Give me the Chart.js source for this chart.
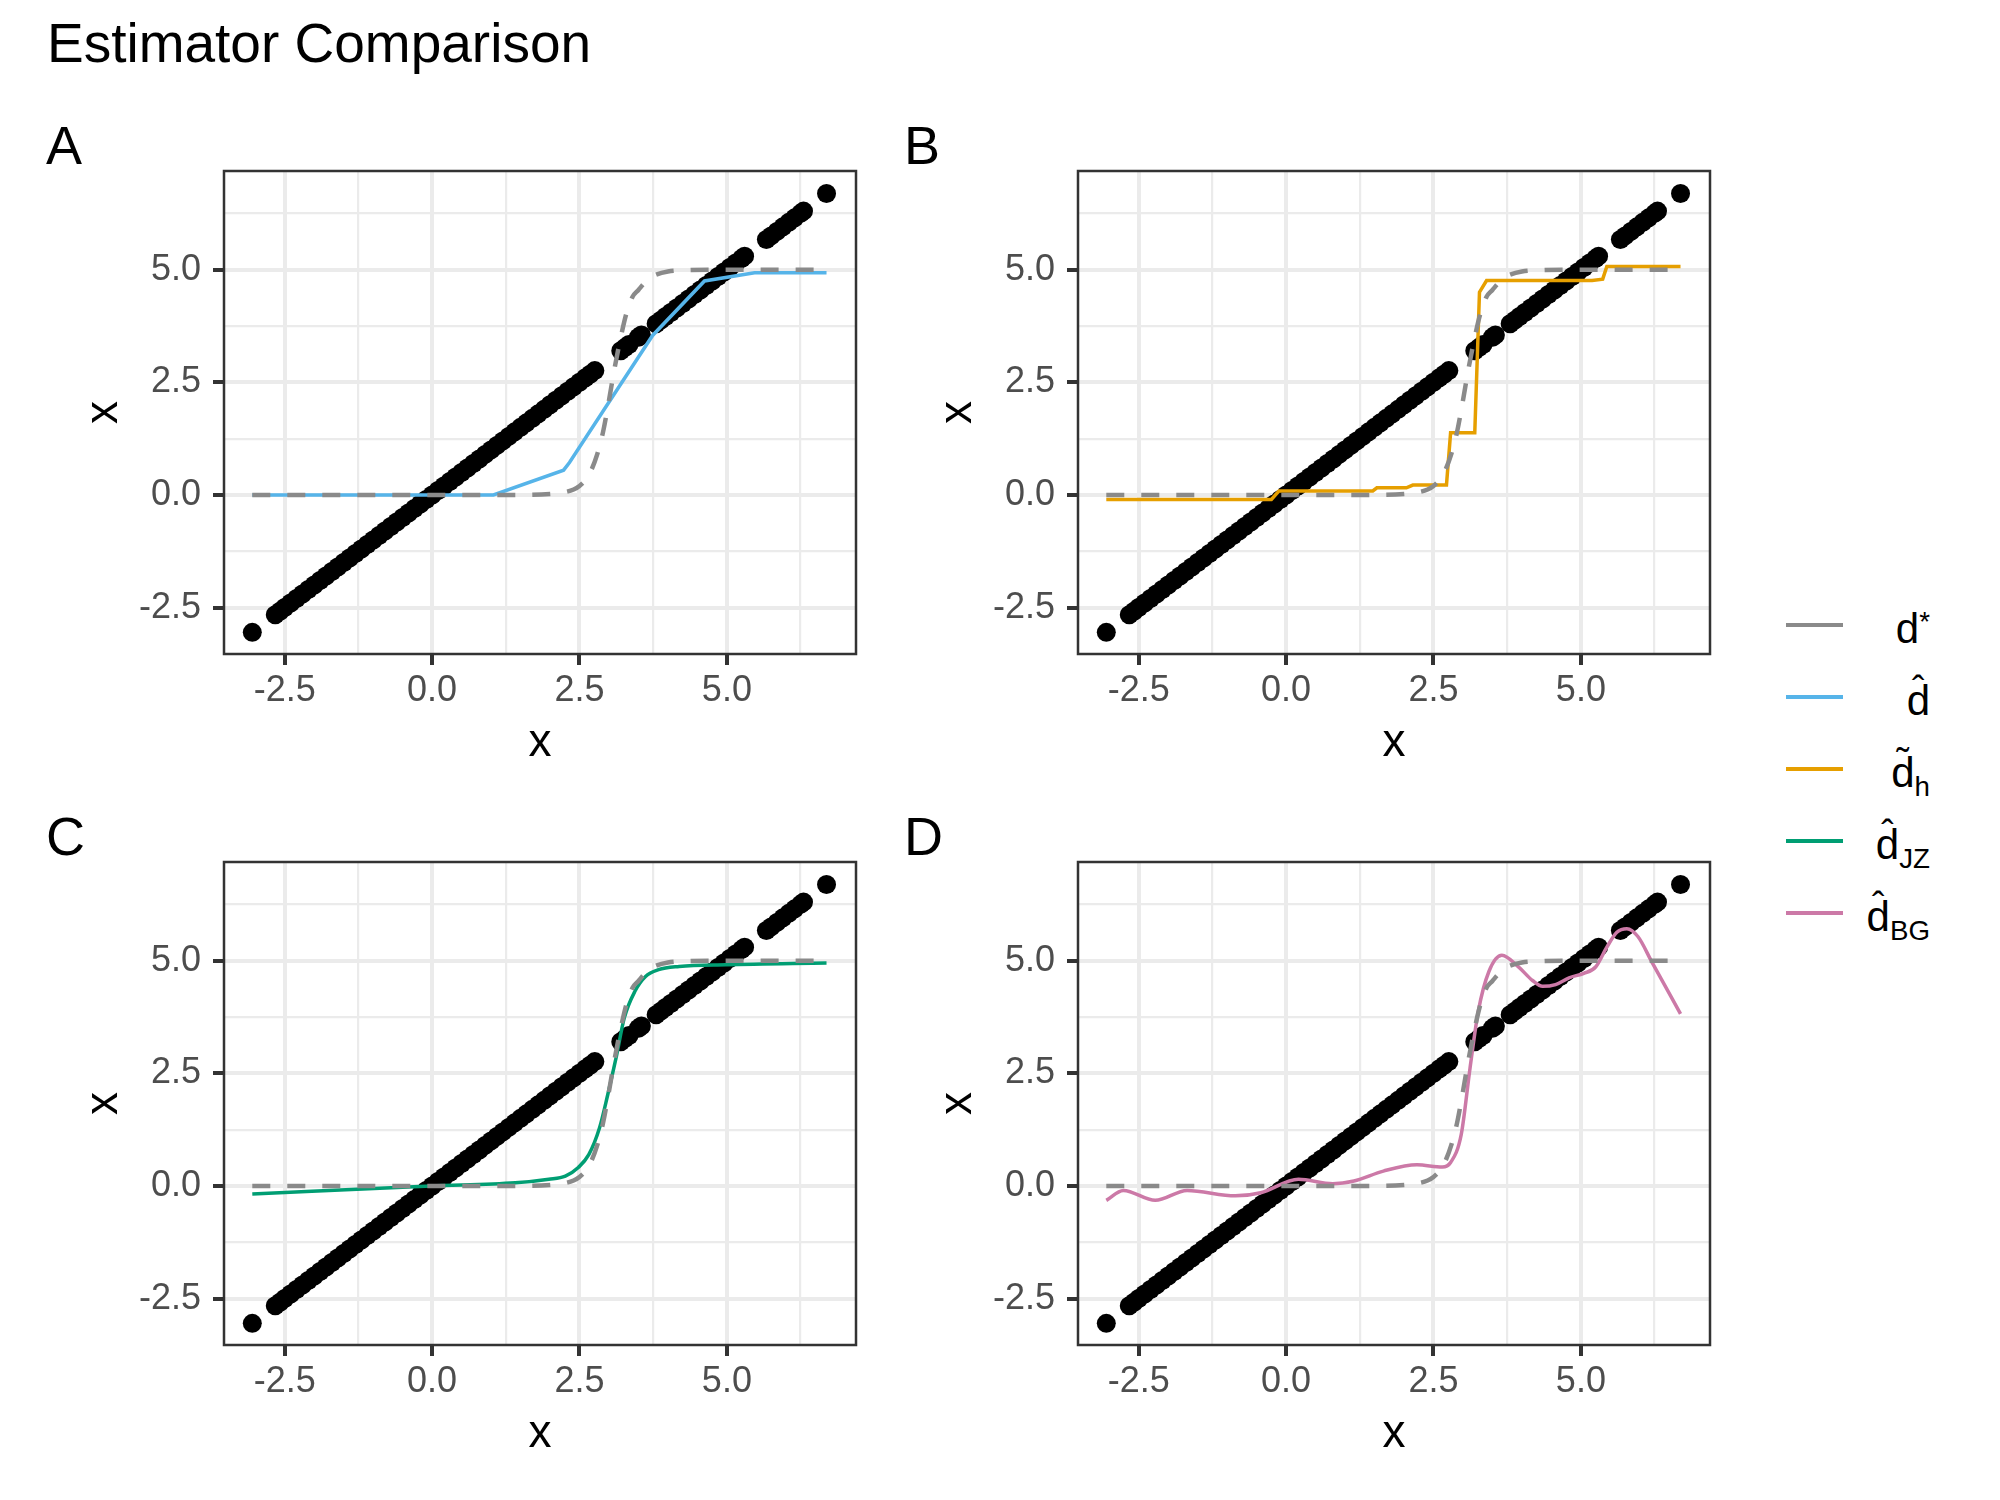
<!DOCTYPE html>
<html>
<head>
<meta charset="utf-8">
<title>Estimator Comparison</title>
<script src="https://cdn.jsdelivr.net/npm/chart.js@4.4.1/dist/chart.umd.min.js"></script>
<style>
  body { margin: 0; background: #fff; font-family: 'Liberation Sans', Arial, sans-serif; }
  #page { position: relative; width: 2000px; height: 1500px; overflow: hidden; background: #fff; }
  .title { position: absolute; left: 47px; top: 16px; font-size: 55px; line-height: 55px; color: #000; }
  .tag { position: absolute; font-size: 54px; line-height: 54px; color: #000; }
  canvas { position: absolute; }
  .key { position: absolute; left: 1786px; width: 57px; height: 4px; }
  .lab { position: absolute; right: 70px; font-size: 42px; line-height: 42px; white-space: nowrap; color: #000; }
  .lab sub, .lab sup { font-size: 0.66em; line-height: 0; }
  .lab sub { vertical-align: -9px; }
  .lab sup { vertical-align: 12px; }
  .acc { position: relative; display: inline-block; }
  .acc > span { position: absolute; left: 0; right: 0; top: -9px; text-align: center; font-size: 0.9em; line-height: 1; }
</style>
</head>
<body>
<div id="page">
  <div class="title">Estimator Comparison</div>
  <div class="tag" style="left:46px; top:118px;">A</div>
  <div class="tag" style="left:904px; top:118px;">B</div>
  <div class="tag" style="left:46px; top:809px;">C</div>
  <div class="tag" style="left:904px; top:809px;">D</div>
  <canvas id="panelA" width="792" height="610" style="left:74px; top:161px;"></canvas>
  <canvas id="panelB" width="792" height="610" style="left:928px; top:161px;"></canvas>
  <canvas id="panelC" width="792" height="610" style="left:74px; top:852px;"></canvas>
  <canvas id="panelD" width="792" height="610" style="left:928px; top:852px;"></canvas>
  <div id="legend"></div>
</div>
<script>
// observed values (the dots lie on y = x)
const pointValues = [
  -3.05,
  -2.66, -2.58, -2.5, -2.4, -2.3, -2.2, -2.1, -2.0, -1.9, -1.8, -1.7, -1.6, -1.5, -1.4, -1.3,
  -1.2, -1.1, -1.0, -0.9, -0.8, -0.7, -0.6, -0.5, -0.4, -0.3, -0.2, -0.1, 0.0, 0.1, 0.2,
  0.3, 0.4, 0.5, 0.6, 0.7, 0.8, 0.9, 1.0, 1.1, 1.2, 1.3, 1.4, 1.5, 1.6, 1.7, 1.8,
  1.9, 2.0, 2.1, 2.2, 2.3, 2.4, 2.5, 2.6, 2.68, 2.76,
  3.2, 3.27, 3.34, 3.5, 3.55,
  3.8, 3.88, 3.96, 4.05, 4.15, 4.25, 4.35, 4.45, 4.55, 4.65, 4.75, 4.85, 4.95, 5.05, 5.15, 5.25, 5.3,
  5.67, 5.75, 5.85, 5.95, 6.05, 6.15, 6.25, 6.3,
  6.69
];

// true decision rule d*
const dStarX = [-3.05, 1.5, 2.0, 2.2, 2.4, 2.5, 2.6, 2.7, 2.8, 2.9, 3.0, 3.1, 3.2, 3.3, 3.4, 3.5, 3.6, 3.7, 3.8, 4.0, 4.3, 4.8, 6.69];
const dStarY = [0, 0, 0.02, 0.05, 0.12, 0.2, 0.33, 0.55, 0.9, 1.4, 2.1, 2.85, 3.5, 4.05, 4.4, 4.55, 4.7, 4.82, 4.89, 4.96, 4.99, 5.0, 5.0];

// panel A: d-hat
const dHatX = [-3.05, 1.04, 2.23, 2.33, 3.74, 4.62, 5.47, 6.69];
const dHatY = [0, 0, 0.55, 0.72, 3.54, 4.75, 4.93, 4.93];

// panel B: d-tilde_h
const dTildeX = [-3.05, -0.25, -0.12, 1.47, 1.54, 2.04, 2.15, 2.72, 2.79, 3.2, 3.28, 3.4, 5.19, 5.37, 5.44, 6.69];
const dTildeY = [-0.1, -0.1, 0.09, 0.09, 0.16, 0.16, 0.22, 0.22, 1.38, 1.38, 4.5, 4.76, 4.76, 4.79, 5.07, 5.07];

// panel C: d-hat_JZ
const dJZX = [-3.05, -0.02, 1.41, 1.98, 2.26, 2.48, 2.66, 2.84, 2.98, 3.12, 3.26, 3.44, 3.62, 3.84, 4.19, 4.98, 6.69];
const dJZY = [-0.18, 0, 0.07, 0.15, 0.22, 0.41, 0.70, 1.29, 2.03, 2.84, 3.73, 4.32, 4.65, 4.80, 4.87, 4.91, 4.95];

// panel D: d-hat_BG
const dBGX = [-3.05, -2.76, -2.22, -1.68, -0.86, -0.43, 0.21, 0.79, 1.15, 1.65, 2.22, 2.65, 2.79, 2.97, 3.12, 3.26, 3.44, 3.66, 3.95, 4.18, 4.35, 4.57, 4.8, 5.05, 5.25, 5.44, 5.61, 5.78, 5.97, 6.2, 6.69];
const dBGY = [-0.32, -0.10, -0.32, -0.10, -0.22, -0.15, 0.15, 0.05, 0.11, 0.33, 0.47, 0.42, 0.52, 1.14, 2.62, 3.88, 4.76, 5.12, 4.85, 4.56, 4.43, 4.47, 4.62, 4.72, 4.86, 5.3, 5.63, 5.71, 5.53, 4.98, 3.82];

// axes
const axisMin = -3.53;
const axisMax = 7.19;
const majorTicks = [-2.5, 0, 2.5, 5];
const minorTicks = [-1.25, 1.25, 3.75, 6.25];
const axisTitle = 'x';

// legend
const legendAccent = ['', 'hat', 'tilde', 'hat', 'hat'];
const legendSup = ['*', '', '', '', ''];
const legendSub = ['', '', 'h', 'JZ', 'BG'];
const seriesColors = ['#8a8a8a', '#56B4E9', '#E69F00', '#009E73', '#CC79A7'];

const FONT = "'Liberation Sans', Arial, sans-serif";
const allTicks = majorTicks.concat(minorTicks).sort((a, b) => a - b);

function isMajor(ctx) {
    return ctx.tick && majorTicks.includes(ctx.tick.value);
}

function toPoints(xs, ys) {
    return xs.map((x, i) => ({ x: x, y: ys[i] }));
}

function axisOptions(isX) {
    return {
        type: 'linear',
        min: axisMin,
        max: axisMax,
        afterBuildTicks: function(scale) {
            scale.ticks = allTicks.map(v => ({ value: v }));
        },
        afterFit: function(scale) {
            if (isX) {
                scale.height = 117;
                scale.paddingLeft = 0;
                scale.paddingRight = 0;
            } else {
                scale.width = 150;
                scale.paddingTop = 0;
                scale.paddingBottom = 0;
            }
        },
        ticks: {
            autoSkip: false,
            maxRotation: 0,
            padding: isX ? 4 : 12,
            color: '#4D4D4D',
            font: { family: FONT, size: 36 },
            callback: v => majorTicks.includes(v) ? v.toFixed(1) : ''
        },
        grid: {
            color: '#EBEBEB',
            lineWidth: ctx => isMajor(ctx) ? 4 : 2.2,
            tickColor: ctx => isMajor(ctx) ? '#333333' : 'rgba(0,0,0,0)',
            tickWidth: 4,
            tickLength: 11
        },
        border: { display: false },
        title: {
            display: true,
            text: axisTitle,
            color: '#000',
            font: { family: FONT, size: 46 },
            padding: isX ? { top: 0, bottom: 0 } : { top: 3, bottom: 0 }
        }
    };
}

// draws the full panel border on top
const panelFrame = {
    id: 'panelFrame',
    afterDraw(chart) {
        const a = chart.chartArea;
        const ctx = chart.ctx;
        ctx.save();
        ctx.strokeStyle = '#333333';
        ctx.lineWidth = 2.5;
        ctx.strokeRect(a.left, a.top, a.right - a.left, a.bottom - a.top);
        ctx.restore();
    }
};

function makePanel(id, estX, estY, color, smooth) {
    const ctx = document.getElementById(id).getContext('2d');
    return new Chart(ctx, {
        type: 'scatter',
        data: {
            datasets: [{
                label: 'd*',
                data: toPoints(dStarX, dStarY),
                showLine: true,
                borderColor: seriesColors[0],
                borderWidth: 4.5,
                borderDash: [18, 17],
                pointRadius: 0,
                cubicInterpolationMode: 'monotone',
                order: 0
            }, {
                label: 'estimate',
                data: toPoints(estX, estY),
                showLine: true,
                borderColor: color,
                borderWidth: 3.5,
                pointRadius: 0,
                cubicInterpolationMode: smooth ? 'monotone' : 'default',
                order: 1
            }, {
                label: 'x',
                data: pointValues.map(v => ({ x: v, y: v })),
                backgroundColor: '#000',
                borderWidth: 0,
                pointRadius: 9.5,
                order: 2
            }]
        },
        options: {
            responsive: false,
            animation: false,
            layout: { padding: { top: 10, right: 10, bottom: 0, left: 0 } },
            plugins: {
                legend: { display: false },
                tooltip: { enabled: false }
            },
            scales: {
                x: axisOptions(true),
                y: axisOptions(false)
            }
        },
        plugins: [panelFrame]
    });
}

makePanel('panelA', dHatX, dHatY, seriesColors[1], false);
makePanel('panelB', dTildeX, dTildeY, seriesColors[2], false);
makePanel('panelC', dJZX, dJZY, seriesColors[3], true);
makePanel('panelD', dBGX, dBGY, seriesColors[4], true);

// shared legend on the right
const legend = document.getElementById('legend');
const legendRows = [625, 697, 769, 841, 913];
seriesColors.forEach(function(color, i) {
    const y = legendRows[i];
    const key = document.createElement('div');
    key.className = 'key';
    key.style.top = (y - 2) + 'px';
    key.style.background = color;
    legend.appendChild(key);

    const lab = document.createElement('div');
    lab.className = 'lab';
    lab.style.top = (y - 17) + 'px';
    let html = 'd';
    if (legendAccent[i] === 'hat') html = '<span class="acc">d<span>\u02C6</span></span>';
    if (legendAccent[i] === 'tilde') html = '<span class="acc">d<span>\u02DC</span></span>';
    if (legendSup[i]) html += '<sup>' + legendSup[i] + '</sup>';
    if (legendSub[i]) html += '<sub>' + legendSub[i] + '</sub>';
    lab.innerHTML = html;
    legend.appendChild(lab);
});
</script>
</body>
</html>
